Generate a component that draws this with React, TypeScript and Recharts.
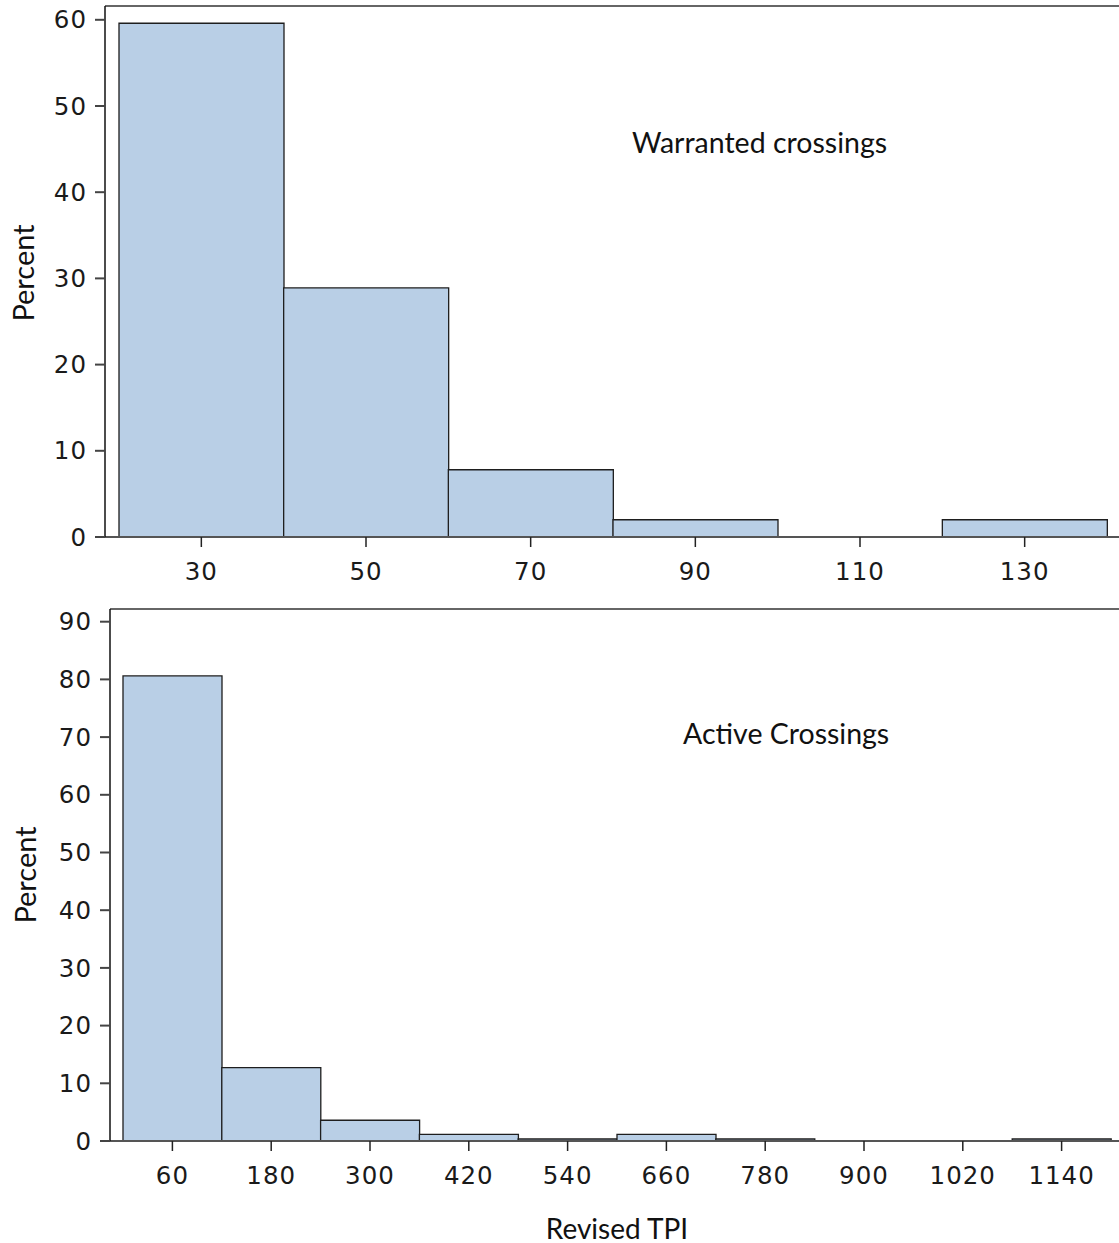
import { BarChart, Bar, XAxis, YAxis, ReferenceLine } from "recharts";

// Warranted crossings: bins of width 20 (20..140), labelled by their centre
const warrantedBins = ["30", "50", "70", "90", "110", "130"];
const warrantedPct = [59.6, 28.9, 7.8, 2.0, 0, 2.0];
const warrantedTicks = [0, 10, 20, 30, 40, 50, 60];

// Active crossings: bins of width 120 (0..1200)
const activeBins = ["60", "180", "300", "420", "540", "660", "780", "900", "1020", "1140"];
const activePct = [80.6, 12.7, 3.6, 1.15, 0.35, 1.15, 0.35, 0, 0, 0.35];
const activeTicks = [0, 10, 20, 30, 40, 50, 60, 70, 80, 90];

const warrantedData = warrantedBins.map((bin, i) => ({ bin, pct: warrantedPct[i] }));
const activeData = activeBins.map((bin, i) => ({ bin, pct: activePct[i] }));

const FILL = "#b9cfe6";
const EDGE = "#1e1e1e";
const tickStyle = { fontSize: 24.5, fontFamily: "DejaVu Sans", fill: "#1a1a1a", letterSpacing: 1 };
const titleFont = "Lato, 'Open Sans', sans-serif";

function YTitle({ left, top }: { left: number; top: number }) {
  return (
    <div
      style={{
        position: "absolute",
        left,
        top,
        transform: "translate(-50%, -50%) rotate(-90deg)",
        fontFamily: titleFont,
        fontSize: 29,
        color: "#111",
        whiteSpace: "nowrap",
        lineHeight: 1,
      }}
    >
      Percent
    </div>
  );
}

function Note({ left, top, text }: { left: number; top: number; text: string }) {
  return (
    <div
      style={{
        position: "absolute",
        left,
        top,
        fontFamily: titleFont,
        fontSize: 28.5,
        color: "#111",
        whiteSpace: "nowrap",
        lineHeight: 1,
      }}
    >
      {text}
    </div>
  );
}

export default function App() {
  return (
    <div style={{ position: "absolute", left: 0, top: 0, width: 1119, height: 1243, background: "#fff" }}>
      <div style={{ position: "absolute", left: 0, top: 0 }}>
        <BarChart
          width={1119}
          height={590}
          data={warrantedData}
          margin={{ top: 6, right: 0, bottom: 0, left: 0 }}
          barCategoryGap={0}
        >
          <XAxis
            dataKey="bin"
            height={53}
            padding={{ left: 14, right: 12 }}
            stroke="#555"
            strokeWidth={2}
            tickSize={10}
            tickMargin={16}
            tick={tickStyle}
            tickLine={{ stroke: "#222", strokeWidth: 1.5 }}
            interval={0}
          />
          <YAxis
            width={105}
            domain={[0, 61.6]}
            ticks={warrantedTicks}
            allowDataOverflow
            stroke="#111"
            strokeWidth={1.5}
            tickSize={10}
            tickMargin={8}
            tick={tickStyle}
            tickLine={{ stroke: "#444", strokeWidth: 2 }}
          />
          <ReferenceLine y={61.6} stroke="#333" strokeWidth={1.5} />
          <Bar dataKey="pct" fill={FILL} stroke={EDGE} strokeWidth={1.3} isAnimationActive={false} />
        </BarChart>
      </div>

      <div style={{ position: "absolute", left: 0, top: 590 }}>
        <BarChart
          width={1119}
          height={653}
          data={activeData}
          margin={{ top: 19, right: 0, bottom: 0, left: 0 }}
          barCategoryGap={0}
        >
          <XAxis
            dataKey="bin"
            height={102}
            padding={{ left: 13, right: 8 }}
            stroke="#555"
            strokeWidth={2}
            tickSize={10}
            tickMargin={16}
            tick={tickStyle}
            tickLine={{ stroke: "#222", strokeWidth: 1.5 }}
            interval={0}
          />
          <YAxis
            width={110}
            domain={[0, 92.2]}
            ticks={activeTicks}
            allowDataOverflow
            stroke="#111"
            strokeWidth={1.5}
            tickSize={10}
            tickMargin={8}
            tick={tickStyle}
            tickLine={{ stroke: "#444", strokeWidth: 2 }}
          />
          <ReferenceLine y={92.2} stroke="#333" strokeWidth={1.5} />
          <Bar dataKey="pct" fill={FILL} stroke={EDGE} strokeWidth={1.3} isAnimationActive={false} />
        </BarChart>
      </div>

      <YTitle left={22} top={273} />
      <YTitle left={24} top={875} />
      <Note left={632} top={128} text="Warranted crossings" />
      <Note left={683} top={719} text="Active Crossings" />
      <div
        style={{
          position: "absolute",
          left: 617,
          top: 1228,
          transform: "translate(-50%, -50%)",
          fontFamily: titleFont,
          fontSize: 28,
          color: "#111",
          whiteSpace: "nowrap",
          lineHeight: 1,
        }}
      >
        Revised TPI
      </div>
    </div>
  );
}
